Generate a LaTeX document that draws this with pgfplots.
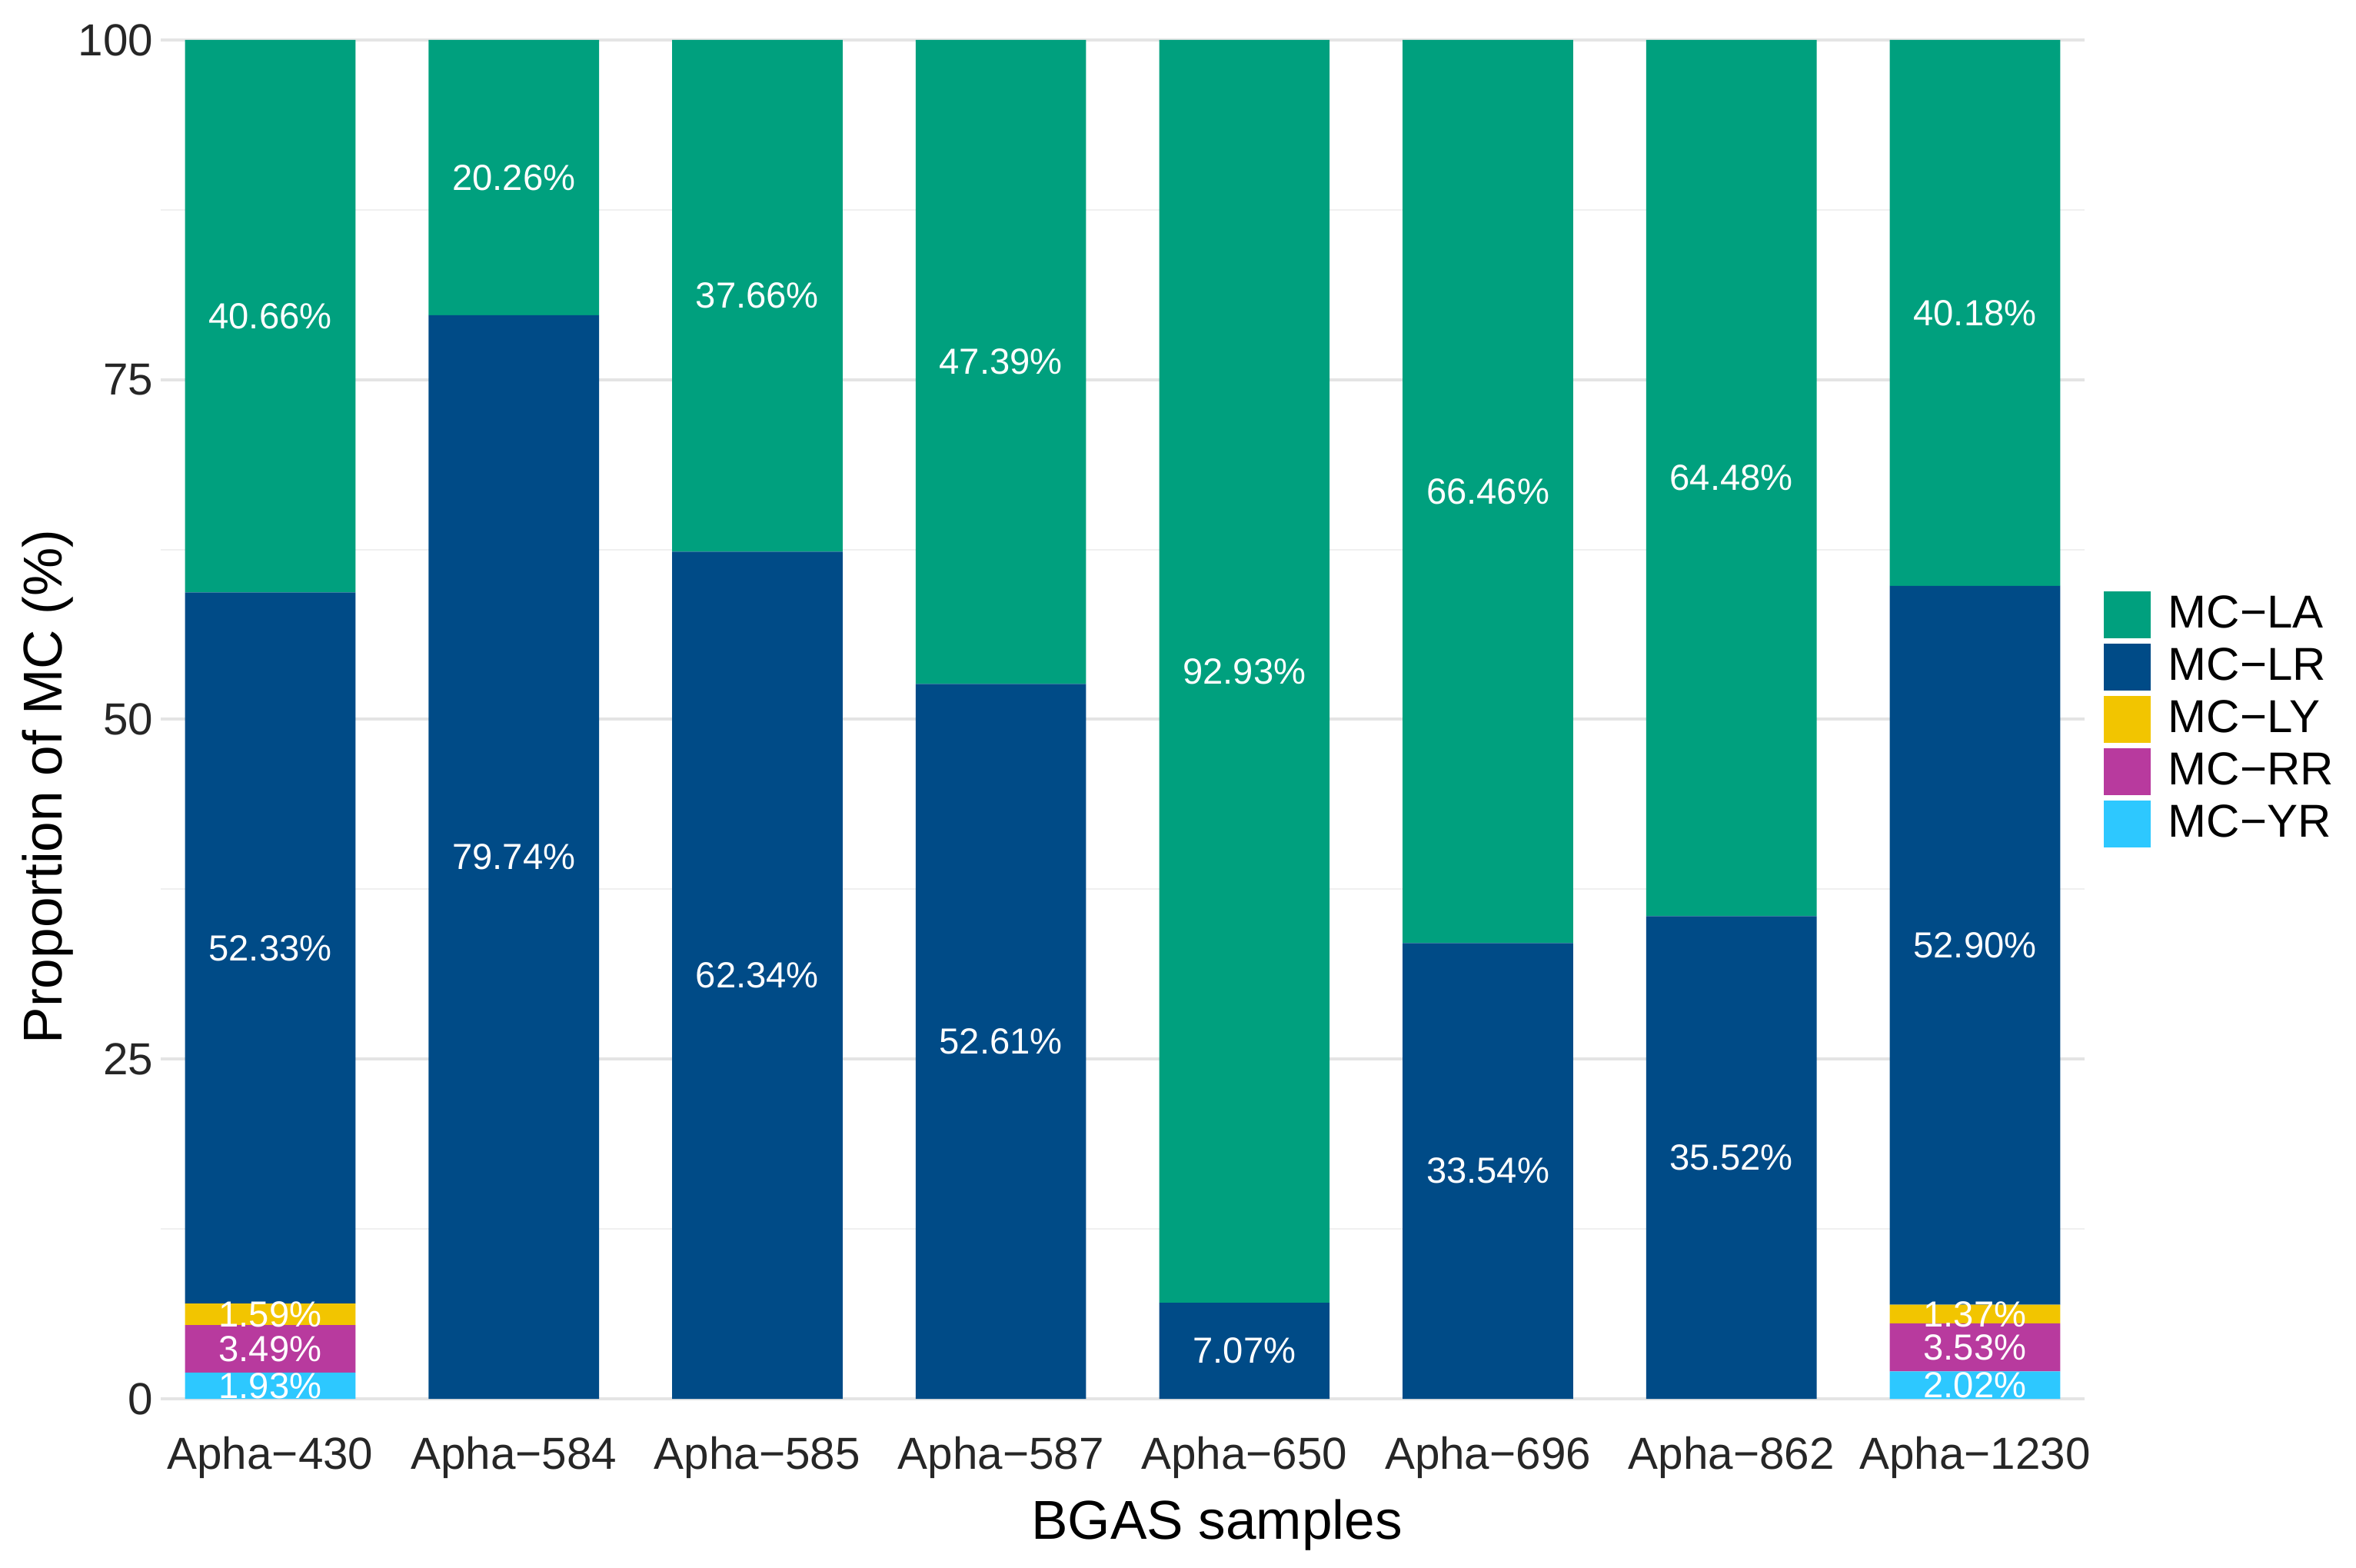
\documentclass[border=0pt]{standalone}
\usepackage{fontspec}
\setmainfont{Liberation Sans}
\usepackage{pgfplots}
\pgfplotsset{compat=1.18}
\usepackage{pgfplotstable}

\definecolor{cLA}{HTML}{00A07E}
\definecolor{cLR}{HTML}{004B87}
\definecolor{cLY}{HTML}{F2C500}
\definecolor{cRR}{HTML}{B83A9E}
\definecolor{cYR}{HTML}{2DC8FF}
\definecolor{gridmaj}{HTML}{E4E4E4}
\definecolor{gridmin}{HTML}{F0F0F0}

% stacked shares per sample (bottom to top: YR, RR, LY, LR, LA)
\pgfplotstableread{
x YR   RR   LY   LR    LA
0 1.93 3.49 1.59 52.33 40.66
1 0    0    0    79.74 20.26
2 0    0    0    62.34 37.66
3 0    0    0    52.61 47.39
4 0    0    0    7.07  92.93
5 0    0    0    33.54 66.46
6 0    0    0    35.52 64.48
7 2.02 3.53 1.37 52.90 40.18
}\mcdata

% label positions (segment midpoints) and values
\pgfplotstableread{
x y      v
0 0.965  1.93
0 3.675  3.49
0 6.215  1.59
0 33.175 52.33
0 79.67  40.66
1 39.87  79.74
1 89.87  20.26
2 31.17  62.34
2 81.17  37.66
3 26.305 52.61
3 76.305 47.39
4 3.535  7.07
4 53.535 92.93
5 16.77  33.54
5 66.77  66.46
6 17.76  35.52
6 67.76  64.48
7 1.01   2.02
7 3.785  3.53
7 6.235  1.37
7 33.37  52.90
7 79.91  40.18
}\mclabels

\pgfplotsset{
  mcbase/.style={width=625.5pt, height=441.75pt, scale only axis,
    xmin=-0.45, xmax=7.45, ymin=0, ymax=100},
  mcbar/.style={fill=#1, draw=none,
    legend image code/.code={\fill[fill=#1] (0pt,-8.85pt) rectangle (15.25pt,6.35pt);}},
}

\begin{document}
\begin{tikzpicture}
\useasboundingbox (-52.25pt,-54.75pt) rectangle (713.75pt,454.75pt);
\begin{axis}[mcbase,
  ybar stacked, bar width=0.7,
  axis line style={draw=none}, tick style={draw=none},
  major tick length=0pt, minor tick length=0pt,
  ymajorgrids, yminorgrids,
  ytick={0,25,50,75,100}, minor ytick={12.5,37.5,62.5,87.5},
  major grid style={color=gridmaj, line width=1pt},
  minor grid style={color=gridmin, line width=0.5pt},
  xtick={0,...,7},
  xticklabels={Apha−430,Apha−584,Apha−585,Apha−587,Apha−650,Apha−696,Apha−862,Apha−1230},
  /pgf/number format/assume math mode=true,
  ticklabel style={font=\fontsize{14.6pt}{17pt}\selectfont, text=black!85},
  xticklabel style={inner sep=0pt, yshift=-12pt},
  yticklabel style={inner sep=0pt, xshift=-2.25pt},
  xlabel={BGAS samples},
  xlabel style={at={(axis description cs:0.549,-0.093)}, anchor=center,
    font=\fontsize{17.8pt}{20pt}\selectfont},
  ylabel={Proportion of MC (\%)},
  ylabel style={at={(axis description cs:-0.0588,0.4505)}, anchor=center,
    font=\fontsize{17.8pt}{20pt}\selectfont},
  legend style={at={(axis description cs:1,0.5)}, xshift=6pt, anchor=west,
    draw=none, fill=none, inner sep=0pt, row sep=1.8pt,
    font=\fontsize{15pt}{17pt}\selectfont,
    nodes={inner sep=0pt, text height=10.75pt, text depth=0pt},
    /tikz/every odd column/.append style={column sep=5.75pt}},
  legend cell align=left, reverse legend,
]
\addplot[mcbar=cYR] table[x=x, y=YR] \mcdata; \addlegendentry{MC−YR}
\addplot[mcbar=cRR] table[x=x, y=RR] \mcdata; \addlegendentry{MC−RR}
\addplot[mcbar=cLY] table[x=x, y=LY] \mcdata; \addlegendentry{MC−LY}
\addplot[mcbar=cLR] table[x=x, y=LR] \mcdata; \addlegendentry{MC−LR}
\addplot[mcbar=cLA] table[x=x, y=LA] \mcdata; \addlegendentry{MC−LA}
\end{axis}
\begin{axis}[mcbase, hide axis, clip=false]
\addplot[only marks, mark=none, point meta=explicit,
  nodes near coords={\pgfmathprintnumber[fixed, fixed zerofill, precision=2]{\pgfplotspointmeta}\%},
  nodes near coords style={anchor=center, inner sep=0pt, text=white,
    font=\fontsize{11.8pt}{13pt}\selectfont,
    /pgf/number format/assume math mode=true}]
  table[x=x, y=y, meta=v] \mclabels;
\end{axis}
\end{tikzpicture}
\end{document}
